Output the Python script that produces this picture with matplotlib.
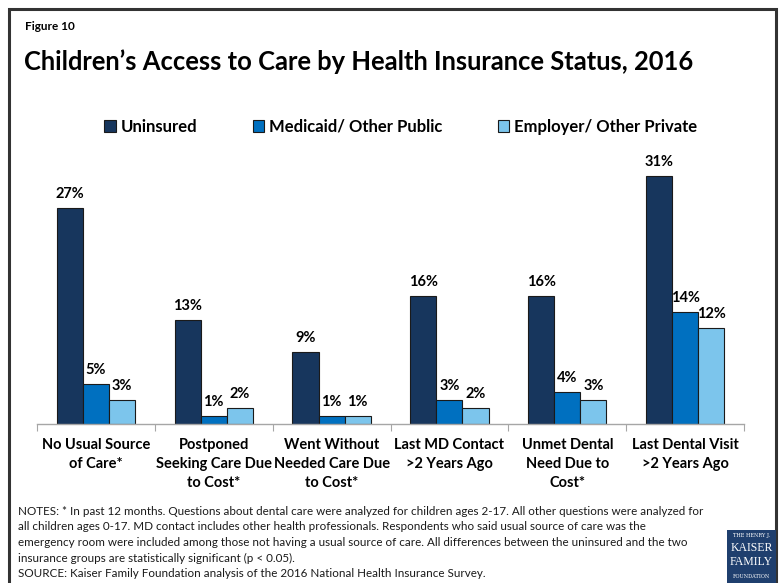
import matplotlib
matplotlib.use("Agg")
import matplotlib.pyplot as plt
from matplotlib.patches import Rectangle
import numpy as np

plt.rcParams['font.family'] = ['Lato', 'DejaVu Sans']

categories = [
    "No Usual Source\nof Care*",
    "Postponed\nSeeking Care Due\nto Cost*",
    "Went Without\nNeeded Care Due\nto Cost*",
    "Last MD Contact\n>2 Years Ago",
    "Unmet Dental\nNeed Due to\nCost*",
    "Last Dental Visit\n>2 Years Ago",
]
series_names = ["Uninsured", "Medicaid/ Other Public", "Employer/ Other Private"]
uninsured = [27, 13, 9, 16, 16, 31]
medicaid = [5, 1, 1, 3, 4, 14]
employer = [3, 2, 1, 2, 3, 12]
colors = ["#17365D", "#0070C0", "#7CC5EC"]

W, H = 779, 583
fig = plt.figure(figsize=(W / 100, H / 100), dpi=100)

# outer frame
fig.patches.append(Rectangle((9 / W, -0.01), (776 - 9) / W, (H - 9) / H + 0.01,
                             transform=fig.transFigure, fill=False,
                             edgecolor="#333333", linewidth=2.2))

fig.text(25 / W, 1 - 27 / H, "Figure 10", fontsize=8.5, fontweight="bold",
         va="center", ha="left")
fig.text(24 / W, 1 - 62 / H, "Children\u2019s Access to Care by Health Insurance Status, 2016",
         fontsize=18.4, fontweight="bold", va="center", ha="left")

# plot area: baseline at y=424 px, 8 px per percentage point
ax_left, ax_right = 37, 744
base_y = 424
ymax = 35
top_y = base_y - ymax * 8
ax = fig.add_axes([ax_left / W, (H - base_y) / H, (ax_right - ax_left) / W, (base_y - top_y) / H])

x = np.arange(len(categories))
bw = 0.222
data = [uninsured, medicaid, employer]
for i, (vals, c) in enumerate(zip(data, colors)):
    pos = x + (i - 1) * bw
    ax.bar(pos, vals, width=bw, color=c, edgecolor="#1a1a1a", linewidth=0.8,
           label=series_names[i])
    for p, v in zip(pos, vals):
        ax.text(p, v + 0.9, f"{v}%", ha="center", va="bottom", fontsize=10.5,
                fontweight="bold")

ax.set_xlim(-0.5, len(categories) - 0.5)
ax.set_ylim(0, ymax)
for s in ["top", "right", "left"]:
    ax.spines[s].set_visible(False)
ax.spines["bottom"].set_color("#a6a6a6")
ax.spines["bottom"].set_linewidth(1)
ax.set_yticks([])
ax.set_xticks(np.arange(len(categories) + 1) - 0.5, minor=False)
ax.set_xticklabels([])
ax.tick_params(axis="x", length=5, color="#a6a6a6", direction="out")
for xi, lab in zip(x, categories):
    ax.text(xi, -1.7, lab, ha="center", va="top", fontsize=10.5, fontweight="bold",
            linespacing=1.47, transform=ax.transData)

leg = fig.legend(loc="center", bbox_to_anchor=(401 / W, 1 - 127 / H), ncol=3,
                 frameon=False, fontsize=12,
                 handlelength=0.7, handleheight=0.7, handletextpad=0.3,
                 columnspacing=3.3)
for t in leg.get_texts():
    t.set_fontweight("bold")

notes = ("NOTES: * In past 12 months. Questions about dental care were analyzed for children ages 2-17. All other questions were analyzed for\n"
         "all children ages 0-17. MD contact includes other health professionals. Respondents who said usual source of care was the\n"
         "emergency room were included among those not having a usual source of care. All differences between the uninsured and the two\n"
         "insurance groups are statistically significant (p < 0.05).\n"
         "SOURCE: Kaiser Family Foundation analysis of the 2016 National Health Insurance Survey.")
fig.text(18 / W, 1 - 506 / H, notes, fontsize=8.4, va="top", ha="left",
         linespacing=1.5, color="#1a1a1a")

# foundation logo
lx0, ly0, lx1, ly1 = 727, 530, 776, 583
fig.patches.append(Rectangle((lx0 / W, 1 - ly1 / H), (lx1 - lx0) / W, (ly1 - ly0) / H,
                             transform=fig.transFigure, facecolor="#1F3F6E",
                             edgecolor="none"))
cx = (lx0 + lx1) / 2 / W
fig.text(cx, 1 - 536 / H, "THE HENRY J.", color="white", fontsize=3.6,
         family="DejaVu Serif", ha="center", va="center")
fig.text(cx, 1 - 548 / H, "KAISER", color="white", fontsize=8.5,
         family="Liberation Serif", ha="center", va="center")
fig.text(cx, 1 - 562 / H, "FAMILY", color="white", fontsize=8.5,
         family="Liberation Serif", ha="center", va="center")
fig.text(cx, 1 - 576 / H, "FOUNDATION", color="white", fontsize=3.6,
         family="DejaVu Serif", ha="center", va="center")

fig.savefig("out.png", dpi=100, facecolor="white")
